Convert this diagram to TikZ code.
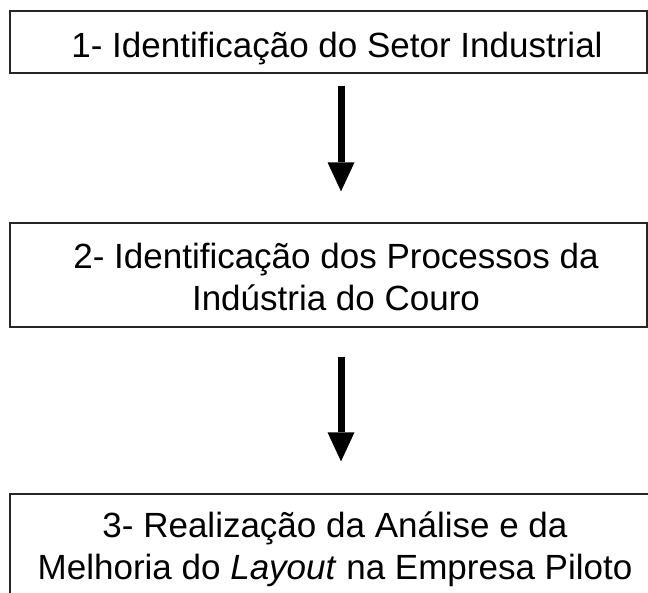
\documentclass[tikz,border=0pt]{standalone}
\usepackage{fontspec}
\setmainfont[Ligatures={NoCommon}]{Liberation Sans}
\usetikzlibrary{arrows.meta}
\tikzset{
  box/.style={draw=black!85, line width=1.3pt, rectangle, inner sep=0pt, fill=none},
  lbl/.style={align=center, inner sep=0pt, font=\fontsize{35pt}{42pt}\selectfont},
  flow/.style={line width=7pt, -{Triangle[width=27pt,length=29pt,line width=0pt]}}
}
\begin{document}
\begin{tikzpicture}[x=1pt,y=-1pt]
\useasboundingbox (0,0) rectangle (648,592);
\clip (0,0) rectangle (648,592);
\fill[white] (0,0) rectangle (648,592);
\node[box, minimum width=637pt, minimum height=62pt] (b1) at (328.5,42) {};
\node[box, minimum width=637pt, minimum height=104pt] (b2) at (328.5,275) {};
\node[box, minimum width=650pt, minimum height=116pt] (b3) at (335,552) {};
\node[lbl, anchor=base] (t1) at (337,57) {1- Identificação do Setor Industrial};
\node[lbl] (t2) at (336,277) {2- Identificação dos Processos da\\Indústria do Couro};
\node[lbl] (t3) at (335,549) {3- Realização da Análise e da\\Melhoria do \textit{Layout} na Empresa Piloto};
\draw[flow] ([xshift=12.5pt,yshift=-12pt]b1.south) -- ([xshift=12.5pt,yshift=31pt]b2.north);
\draw[flow] ([xshift=12.5pt,yshift=-29pt]b2.south) -- ([xshift=6pt,yshift=32pt]b3.north);
\end{tikzpicture}
\end{document}
